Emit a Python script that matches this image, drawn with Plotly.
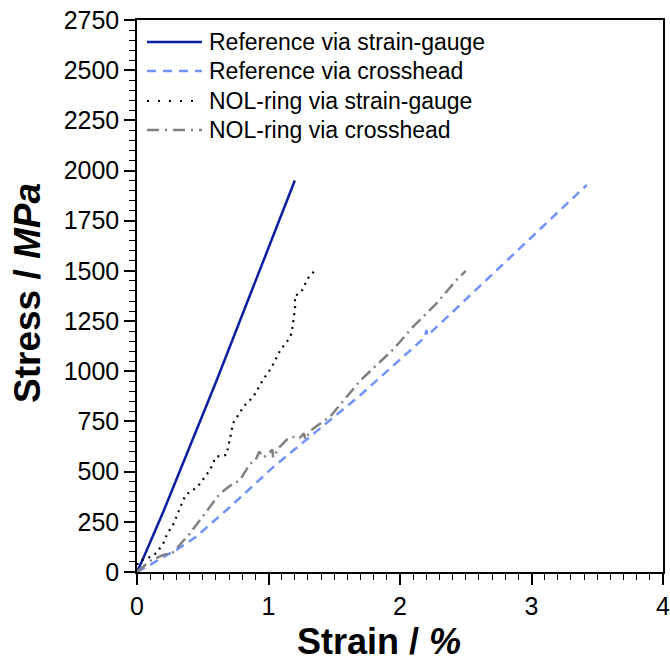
import plotly.graph_objects as go

# ---- data ----
ref_sg_strain = [0, 0.05, 0.2, 0.4, 0.6, 0.8, 1.0, 1.2]
ref_sg_stress = [0, 72, 300, 620, 945, 1280, 1615, 1950]

ref_ch_strain = [0, 0.1, 0.2, 0.3, 0.45, 0.7, 1.04, 1.4, 1.7, 2.19, 2.2, 2.21, 2.7, 3.0, 3.42]
ref_ch_stress = [0, 35, 75, 110, 176, 320, 525, 720, 882, 1170, 1205, 1178, 1480, 1665, 1928]

nol_sg_strain = [0, 0.005, 0.04, 0.1, 0.15, 0.2, 0.23, 0.28, 0.33, 0.37, 0.46, 0.555, 0.6, 0.68,
                 0.71, 0.73, 0.78, 0.81, 0.885, 0.96, 1.02, 1.09, 1.15, 1.176, 1.19, 1.206, 1.196,
                 1.25, 1.30, 1.35]
nol_sg_stress = [0, 45, 60, 75, 95, 143, 190, 242, 325, 384, 424, 508, 574, 583,
                 674, 741, 792, 824, 873, 960, 1015, 1106, 1156, 1189, 1256, 1339, 1372,
                 1397, 1463, 1500]

nol_ch_strain = [0, 0.1, 0.2, 0.27, 0.4, 0.53, 0.63, 0.73, 0.78, 0.86, 0.9, 0.93, 0.96, 1.0,
                 1.03, 1.035, 1.08, 1.14, 1.2, 1.24, 1.27, 1.28, 1.32, 1.47, 1.7, 1.95, 2.1,
                 2.28, 2.43, 2.5]
nol_ch_stress = [0, 55, 85, 95, 190, 305, 390, 440, 455, 540, 555, 600, 570, 590,
                 610, 570, 620, 660, 675, 670, 690, 660, 705, 775, 955, 1110, 1222,
                 1340, 1455, 1500]

series_names = ["Reference via strain-gauge", "Reference via crosshead",
                "NOL-ring via strain-gauge", "NOL-ring via crosshead"]

x_ticks = [0, 1, 2, 3, 4]
y_ticks = list(range(0, 2751, 250))

FONT = "Liberation Sans, Arial, sans-serif"

styles = [
    dict(color="#0A1EA0", width=2.5, dash="solid"),
    dict(color="#6F92FF", width=2.5, dash="9px,6px"),
    dict(color="#000000", width=2.2, dash="2px,5px"),
    dict(color="#808080", width=2.5, dash="12px,5px,2px,5px"),
]
legend_dash = ["solid", "9px,7px", "2px,9px", "12px,6px,2px,6px"]

fig = go.Figure()
data = [(ref_sg_strain, ref_sg_stress), (ref_ch_strain, ref_ch_stress),
        (nol_sg_strain, nol_sg_stress), (nol_ch_strain, nol_ch_stress)]
for (xs, ys), name, st in zip(data, series_names, styles):
    fig.add_trace(go.Scatter(x=xs, y=ys, mode="lines", name=name, line=st, showlegend=False))

W, H = 670, 661
L, R, T, B = 137, 7, 20, 89
pw, ph = W - L - R, H - T - B
def px(x):  # page pixel x -> paper fraction
    return (x - L) / pw
def py(y):  # page pixel y -> paper fraction
    return (H - B - y) / ph

leg_y = [42, 71, 101, 130]
for yy, name, st, dsh in zip(leg_y, series_names, styles, legend_dash):
    fig.add_shape(type="line", xref="paper", yref="paper",
                  x0=px(147), x1=px(202), y0=py(yy), y1=py(yy),
                  line=dict(color=st["color"], width=st["width"], dash=dsh))
    fig.add_annotation(xref="paper", yref="paper", x=px(207), y=py(yy),
                       text=name, showarrow=False, xanchor="left", yanchor="middle",
                       font=dict(family=FONT, size=23, color="#000"))

# axis titles
fig.add_annotation(xref="paper", yref="paper", x=px(379), y=py(641),
                   text="<b>Strain / <i>%</i></b>", showarrow=False,
                   xanchor="center", yanchor="middle",
                   font=dict(family=FONT, size=36, color="#000"))
fig.add_annotation(xref="paper", yref="paper", x=px(27), y=py(293),
                   text="<b>Stress / <i>MPa</i></b>", showarrow=False, textangle=-90,
                   xanchor="center", yanchor="middle",
                   font=dict(family=FONT, size=37, color="#000"))

axis_common = dict(showgrid=False, zeroline=False, showline=True, linecolor="#000",
                   linewidth=1.5, mirror=True, ticks="outside", ticklen=11, tickwidth=1.5,
                   tickcolor="#000", automargin=False, ticklabeloverflow="allow",
                   tickfont=dict(family=FONT, size=25, color="#000"))

fig.update_xaxes(range=[0, 4], tickvals=x_ticks, ticktext=[str(v) for v in x_ticks],
                 minor=dict(ticks="outside", dtick=0.1, ticklen=6, tickwidth=1.2, tickcolor="#000"),
                 **axis_common)
fig.update_yaxes(range=[0, 2750], tickvals=y_ticks, ticktext=[str(v) for v in y_ticks],
                 minor=dict(ticks="outside", dtick=50, ticklen=6, tickwidth=1.2, tickcolor="#000"),
                 **axis_common)

fig.update_layout(template="none", width=W, height=H, margin=dict(l=L, r=R, t=T, b=B),
                  paper_bgcolor="white", plot_bgcolor="white",
                  font=dict(family=FONT, color="#000"))

fig.write_html("out.html", config={"displayModeBar": False},
               post_script="document.body.style.margin='0';document.body.style.overflow='hidden';")
